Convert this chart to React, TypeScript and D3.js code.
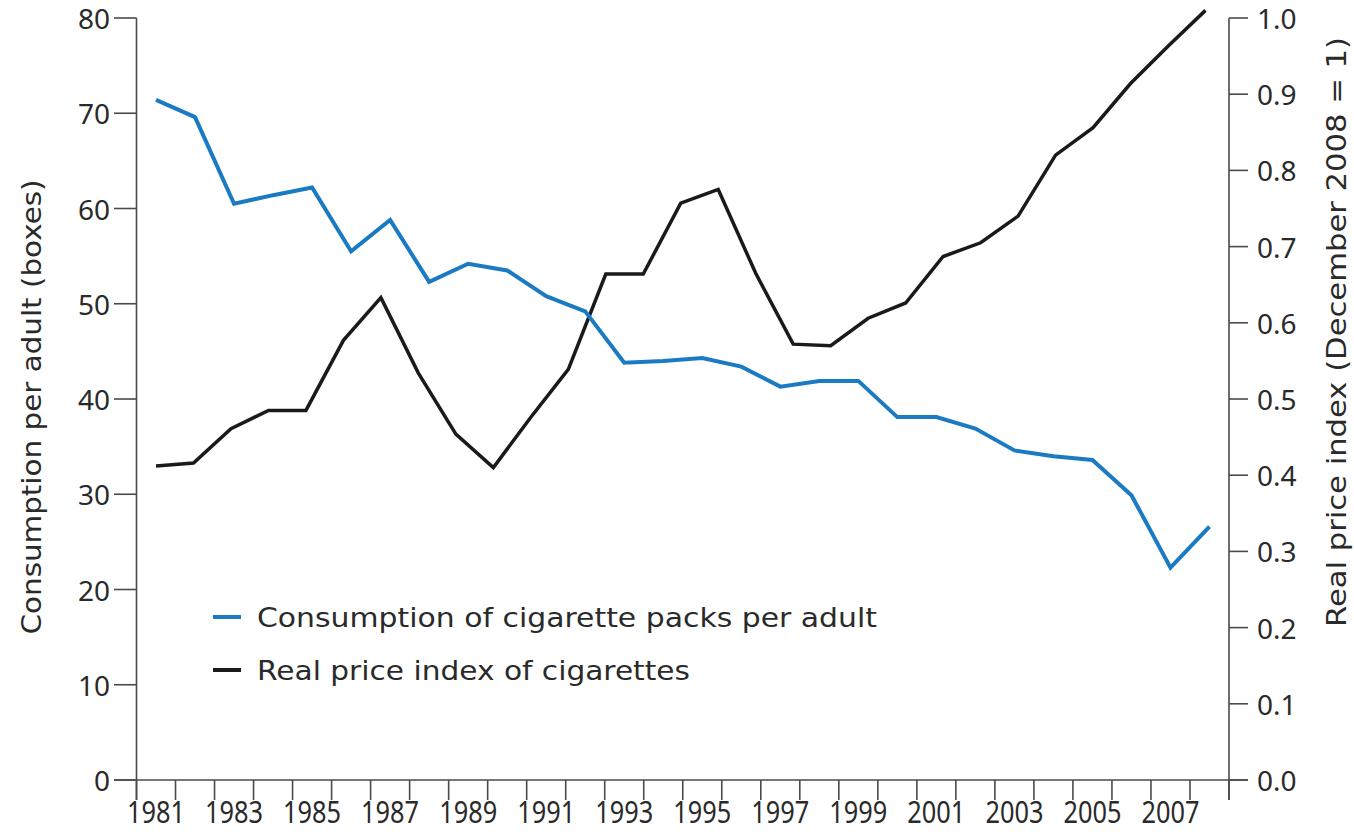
import React from "react";
import * as d3 from "d3";

const years: number[] = d3.range(1981, 2009);
const labelYears: number[] = [1981, 1983, 1985, 1987, 1989, 1991, 1993, 1995, 1997, 1999, 2001, 2003, 2005, 2007];
const leftTicks: number[] = [0, 10, 20, 30, 40, 50, 60, 70, 80];
const rightTicks: number[] = [0, 0.1, 0.2, 0.3, 0.4, 0.5, 0.6, 0.7, 0.8, 0.9, 1.0];

// Consumption of cigarette packs per adult, 1981–2008
const consumption: number[] = [
  71.4, 69.6, 60.5, 61.4, 62.2, 55.5, 58.8, 52.3, 54.2, 53.5,
  50.8, 49.2, 43.8, 44.0, 44.3, 43.4, 41.3, 41.9, 41.9, 38.1,
  38.1, 36.9, 34.6, 34.0, 33.6, 29.9, 22.3, 26.6,
];

// Real price index of cigarettes (December 2008 = 1), 29 observations
const priceIndex: number[] = [
  0.412, 0.416, 0.461, 0.485, 0.485, 0.577, 0.633, 0.534, 0.454, 0.41,
  0.476, 0.539, 0.664, 0.664, 0.757, 0.775, 0.665, 0.572, 0.57, 0.606,
  0.626, 0.687, 0.705, 0.74, 0.82, 0.856, 0.914, 0.963, 1.01,
];

const legendItems = [
  { label: "Consumption of cigarette packs per adult", color: "#1b7bc2", width: 620 },
  { label: "Real price index of cigarettes", color: "#1a1a1a", width: 433 },
];

const FONT = "'Noto Sans', 'DejaVu Sans', sans-serif";
const TITLE_FONT = "'DejaVu Sans', 'Noto Sans', sans-serif";

export default function App() {
  const W = 1354;
  const H = 832;
  const left = 136.5;
  const right = 1229;
  const top = 18;
  const bottom = 780;

  const x = d3.scaleBand<number>().domain(years).range([left, right]).padding(0);
  const bw = x.bandwidth();
  const xc = (y: number) => (x(y) as number) + bw / 2;
  const xPrice = d3
    .scaleLinear()
    .domain([0, priceIndex.length - 1])
    .range([xc(1981), xc(2008) - 4]);
  const yL = d3.scaleLinear().domain([0, 80]).range([bottom, top]);
  const yR = d3.scaleLinear().domain([0, 1]).range([bottom, top]);

  const consLine = d3
    .line<number>()
    .x((_, i) => xc(years[i]))
    .y((d) => yL(d));
  const priceLine = d3
    .line<number>()
    .x((_, i) => xPrice(i))
    .y((d) => yR(d));

  const boundaries = [...years.map((y) => x(y) as number), right];
  const axisColor = "#4a4a4a";
  const textColor = "#2a2a2a";

  return (
    <svg
      width={W}
      height={H}
      style={{ position: "absolute", left: 0, top: 0, background: "#fff" }}
      fontFamily={FONT}
    >
      {/* axes lines */}
      <line x1={left} x2={left} y1={top} y2={800} stroke={axisColor} strokeWidth={1.6} />
      <line x1={right} x2={right} y1={top} y2={800} stroke={axisColor} strokeWidth={1.6} />
      <line x1={114} x2={1248} y1={bottom} y2={bottom} stroke={axisColor} strokeWidth={1.6} />

      {/* left ticks */}
      {leftTicks.map((t) => (
        <g key={"l" + t}>
          <line x1={114} x2={left} y1={yL(t)} y2={yL(t)} stroke={axisColor} strokeWidth={1.6} />
          <text
            x={110}
            y={yL(t)}
            textAnchor="end"
            dominantBaseline="central"
            fontSize={28}
            fill={textColor}
          >
            {t}
          </text>
        </g>
      ))}

      {/* right ticks */}
      {rightTicks.map((t) => (
        <g key={"r" + t}>
          <line x1={right} x2={1248} y1={yR(t)} y2={yR(t)} stroke={axisColor} strokeWidth={1.6} />
          <text
            x={1257}
            y={yR(t)}
            textAnchor="start"
            dominantBaseline="central"
            fontSize={28}
            fill={textColor}
          >
            {t.toFixed(1)}
          </text>
        </g>
      ))}

      {/* x ticks */}
      {boundaries.map((b, i) => (
        <line key={"x" + i} x1={b} x2={b} y1={bottom} y2={800} stroke={axisColor} strokeWidth={1.6} />
      ))}
      {labelYears.map((yr) => (
        <text
          key={"xl" + yr}
          x={xc(yr)}
          y={823}
          textAnchor="middle"
          fontSize={30}
          textLength={58}
          lengthAdjust="spacingAndGlyphs"
          fill={textColor}
        >
          {yr}
        </text>
      ))}

      {/* axis titles */}
      <text
        transform={`translate(31,407) rotate(-90)`}
        textAnchor="middle"
        dominantBaseline="central"
        fontFamily={TITLE_FONT}
        fontSize={27}
        textLength={455}
        lengthAdjust="spacingAndGlyphs"
        fill={textColor}
      >
        Consumption per adult (boxes)
      </text>
      <text
        transform={`translate(1336,332) rotate(-90)`}
        textAnchor="middle"
        dominantBaseline="central"
        fontFamily={TITLE_FONT}
        fontSize={27}
        textLength={590}
        lengthAdjust="spacingAndGlyphs"
        fill={textColor}
      >
        Real price index (December 2008 = 1)
      </text>

      {/* data lines */}
      <path d={priceLine(priceIndex) || ""} fill="none" stroke="#1a1a1a" strokeWidth={3.5} strokeLinejoin="miter" />
      <path d={consLine(consumption) || ""} fill="none" stroke="#1b7bc2" strokeWidth={4} strokeLinejoin="miter" />

      {/* legend */}
      {legendItems.map((it, i) => (
        <g key={it.label} transform={`translate(0,${617 + i * 53})`}>
          <line x1={213} x2={241} y1={0} y2={0} stroke={it.color} strokeWidth={4} />
          <text
            x={257}
            y={0}
            dominantBaseline="central"
            fontFamily={TITLE_FONT}
            fontSize={27}
            textLength={it.width}
            lengthAdjust="spacingAndGlyphs"
            fill={textColor}
          >
            {it.label}
          </text>
        </g>
      ))}
    </svg>
  );
}
